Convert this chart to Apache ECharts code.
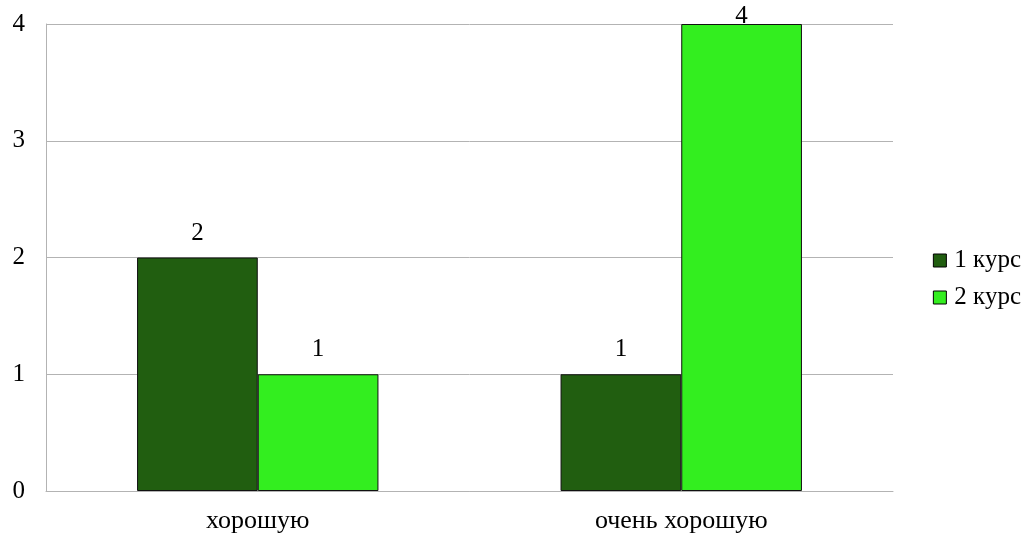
<!DOCTYPE html>
<html><head><meta charset="utf-8">
<script src="https://cdn.jsdelivr.net/npm/echarts@6/dist/echarts.min.js"></script>
<style>html,body{margin:0;padding:0;background:#fff}#c{width:1030px;height:540px}</style>
</head><body><div id="c"></div>
<script>
const categories = ['хорошую', 'очень хорошую'];
const seriesNames = ['1 курс', '2 курс'];
const course1 = [2, 1];
const course2 = [1, 4];
const colors = ['#215E10', '#33EE1F'];
const FONT = '"Liberation Serif", "Times New Roman", serif';

function items(vals) {
  return vals.map(v => v === 4 ? { value: v, label: { distance: 0, offset: [0, 5] } } : v);
}

const chart = echarts.init(document.getElementById('c'));
chart.setOption({
  animation: false,
  grid: { left: 46, right: 137, top: 24, bottom: 49 },
  legend: {
    orient: 'vertical', right: 4, top: 243,
    itemWidth: 13, itemHeight: 13, itemGap: 12,
    icon: 'rect',
    textStyle: { fontFamily: FONT, fontSize: 25, color: '#000', padding: [0, 0, 0, 3] },
    data: seriesNames.map(n => ({ name: n, itemStyle: { borderColor: '#000', borderWidth: 1 } }))
  },
  xAxis: {
    type: 'category', data: categories,
    axisLine: { lineStyle: { color: '#b3b3b3', width: 1 } },
    axisTick: { show: false },
    axisLabel: { fontFamily: FONT, fontSize: 26, color: '#000', margin: 17 }
  },
  yAxis: {
    type: 'value', min: 0, max: 4, interval: 1,
    axisLine: { show: true, lineStyle: { color: '#b3b3b3', width: 1 } },
    axisTick: { show: false },
    splitLine: { lineStyle: { color: '#b3b3b3', width: 1 } },
    axisLabel: { fontFamily: FONT, fontSize: 25, color: '#000', margin: 21 }
  },
  series: [
    { name: seriesNames[0], type: 'bar', data: items(course1), barGap: '0%', barCategoryGap: '43%',
      itemStyle: { color: colors[0], borderColor: '#111', borderWidth: 1 },
      label: { show: true, position: 'top', distance: 12, fontFamily: FONT, fontSize: 25, color: '#000' } },
    { name: seriesNames[1], type: 'bar', data: items(course2), barGap: '0%', barCategoryGap: '43%',
      itemStyle: { color: colors[1], borderColor: '#111', borderWidth: 1 },
      label: { show: true, position: 'top', distance: 12, fontFamily: FONT, fontSize: 25, color: '#000' } }
  ]
});
</script></body></html>
